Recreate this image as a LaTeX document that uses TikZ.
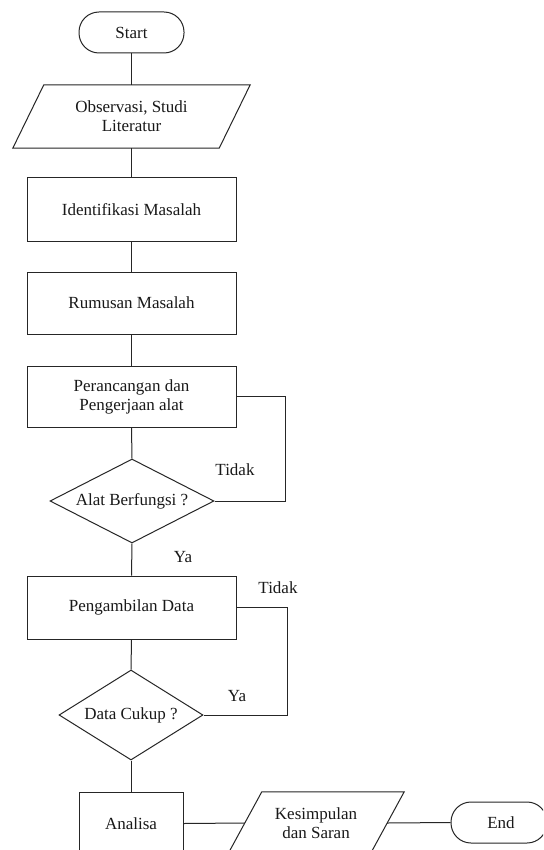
\documentclass[tikz,border=0pt]{standalone}
\usepackage{fontspec}
\setmainfont{Liberation Serif}
\usetikzlibrary{shapes.geometric}
\begin{document}
\begin{tikzpicture}[x=1pt,y=-1pt,
  every node/.style={font=\fontsize{17}{19}\selectfont, inner sep=0pt, text=black!90},
  line/.style={draw=black!85, line width=1pt},
  procbox/.style={line, rectangle, minimum width=209pt, minimum height=62pt, align=center},
  termbox/.style={line, rectangle, rounded corners=20pt, minimum height=41pt},
  iobox/.style={rectangle, align=center},
  decision/.style={line, diamond, inner sep=0pt},
  lbl/.style={font=\fontsize{17}{19}\selectfont}
]
\useasboundingbox (0,0) rectangle (543,850);
\clip (0,0) rectangle (543,850);
\fill[white] (0,0) rectangle (543,850);

% nodes
\node[termbox, minimum width=105pt] (start) at (131.5,32.5) {Start};
\node[iobox, minimum width=237pt, minimum height=63pt] (obs) at (131.5,116.5) {Observasi, Studi\\Literatur};
\draw[line] ([xshift=31pt]obs.north west) -- (obs.north east) -- ([xshift=-31pt]obs.south east) -- (obs.south west) -- cycle;
\node[procbox, minimum height=63pt] (iden) at (131.5,209.5) {Identifikasi Masalah};
\node[procbox] (rum) at (131.5,303) {Rumusan Masalah};
\node[procbox, minimum height=61pt] (per) at (131.5,396.5) {Perancangan dan\\Pengerjaan alat};
\node[decision, minimum width=164pt, minimum height=84pt, label={[lbl]center:Alat Berfungsi ?}] (d1) at (132,501) {};
\node[procbox, minimum height=63pt] (peng) at (131.5,607.5) {Pengambilan Data};
\node[decision, minimum width=144pt, minimum height=90pt, label={[lbl]center:Data Cukup ?}] (d2) at (131,715) {};
\node[procbox, minimum width=104pt, minimum height=63pt] (ana) at (131,823.5) {Analisa};
\node[iobox, minimum width=176pt, minimum height=62pt] (kes) at (316,823) {Kesimpulan\\dan Saran};
\draw[line] ([xshift=34pt]kes.north west) -- (kes.north east) -- ([xshift=-34pt]kes.south east) -- (kes.south west) -- cycle;
\node[termbox, minimum width=96pt] (end) at (499,822.5) {\hspace*{4pt}End};

% labels
\node[lbl] (t1) at (235,470) {Tidak};
\node[lbl] (y1) at (183,557) {Ya};
\node[lbl] (t2) at (278,588) {Tidak};
\node[lbl] (y2) at (237,696) {Ya};

% connectors
\draw[line] (start.south) -- ([xshift=0pt]obs.north);
\draw[line] (obs.south) -- (iden.north);
\draw[line] (iden.south) -- (rum.north);
\draw[line] (rum.south) -- (per.north);
\draw[line] (per.south) -- (d1.north);
\draw[line] (d1.south) -- (peng.north);
\draw[line] (d1.east) -- (285,501) |- (per.east);
\draw[line] (peng.south) -- (d2.north);
\draw[line] (peng.east) -- (287,607.5) |- (d2.east);
\draw[line] (d2.south) -- (ana.north);
\draw[line] (ana.east) -- ([xshift=17pt]kes.west);
\draw[line] ([xshift=-17pt]kes.east) -- (end.west);
\end{tikzpicture}
\end{document}
